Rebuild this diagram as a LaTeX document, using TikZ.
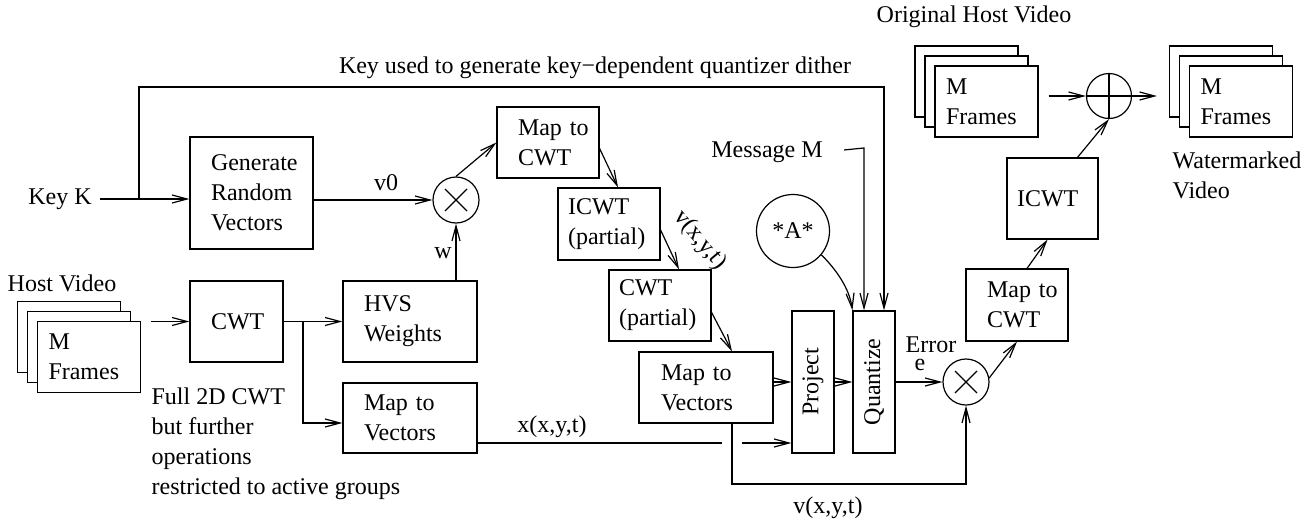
\documentclass[tikz,border=0pt]{standalone}
\usepackage{fontspec}
\setmainfont{Liberation Serif}
\usepackage{graphicx}
\usetikzlibrary{arrows.meta}

\begin{document}
\begin{tikzpicture}[x=1pt, y=-1pt, line width=1.2pt,
  font=\fontsize{24}{30}\selectfont,
  arr/.style={-{Straight Barb[length=15pt, width=8pt]}},
  box/.style={draw, inner sep=0pt, align=left},
  frm/.style={draw, fill=white, inner sep=0pt, align=left, minimum width=103pt, minimum height=71pt, text width=81pt},
  times/.style={draw, circle, inner sep=0pt, minimum size=46pt,
    path picture={\draw (path picture bounding box.center) +(-11,-11) -- +(11,11)
      (path picture bounding box.center) +(-11,11) -- +(11,-11);}},
  plusop/.style={draw, circle, inner sep=0pt, minimum size=45pt,
    path picture={\draw (path picture bounding box.north) -- (path picture bounding box.south)
      (path picture bounding box.west) -- (path picture bounding box.east);}},
  lbl/.style={inner sep=0pt}]

\useasboundingbox (0,0) rectangle (1316,525);

\node[lbl] (keyk) at (60,199) {Key K};
\node[box, minimum width=123pt, minimum height=112pt, text width=81pt] (gen) at (251.5,193) {Generate\\Random\\Vectors};
\node[times] (mulA) at (456,200) {};
\node[box, minimum width=102pt, minimum height=71pt, text width=60pt] (mapcA) at (548,142.5) {Map~to\\CWT};
\node[box, minimum width=102pt, minimum height=72pt, text width=82pt] (icwtA) at (609,224) {ICWT\\(partial)};
\node[box, minimum width=102pt, minimum height=71pt, text width=82pt] (cwtB) at (660,305.5) {CWT\\(partial)};
\node[box, minimum width=134pt, minimum height=71pt, text width=90pt] (mapvB) at (706,387.5) {Map~to\\Vectors};
\node[box, minimum width=42pt, minimum height=142pt] (proj) at (813,382) {\rotatebox{90}{Project}};
\node[box, minimum width=42pt, minimum height=142pt] (quant) at (874,382) {\rotatebox{90}{Quantize}};
\node[times] (mulB) at (966,382) {};
\node[box, minimum width=102pt, minimum height=72pt, text width=60pt] (mapcB) at (1017,305) {Map~to\\CWT};
\node[box, minimum width=91pt, minimum height=81pt, text width=71pt] (icwtB) at (1052.5,198.5) {ICWT};
\node[plusop] (plus) at (1109,96) {};
\node[draw, circle, inner sep=0pt, minimum size=73pt] (astA) at (793,231) {*A*};
\node[box, minimum width=93pt, minimum height=81pt, text width=51pt] (cwtA) at (236.5,321.5) {CWT};
\node[box, minimum width=134pt, minimum height=81pt, text width=92pt] (hvs) at (410,321.5) {HVS\\Weights};
\node[box, minimum width=134pt, minimum height=70pt, text width=92pt] (mapvA) at (410,418) {Map~to\\Vectors};

\node[frm] (hostA) at (69,337) {};
\node[frm] (hostB) at (79,347) {};
\node[frm] (hostC) at (89,357) {M\\Frames};
\node[frm] (origA) at (966.5,81.5) {};
\node[frm] (origB) at (976.5,91.5) {};
\node[frm] (origC) at (986.5,101.5) {M\\Frames};
\node[frm] (wmA) at (1221,81.5) {};
\node[frm] (wmB) at (1231,91.5) {};
\node[frm] (wmC) at (1241,101.5) {M\\Frames};

\node[lbl] (keytxt) at (595,68) {Key used to generate key−dependent quantizer dither};
\node[lbl] (msg) at (767,152) {Message M};
\node[lbl] (origtxt) at (974,17) {Original Host Video};
\node[lbl, align=left, anchor=north west] (wmtxt) at (1172,151) {Watermarked\\Video};
\node[lbl] (hosttxt) at (62,283) {Host Video};
\node[lbl, align=left, anchor=north west] (note) at (151,387) {Full 2D CWT\\but further\\operations\\restricted to active groups};
\node[lbl] (vzero) at (386,183) {v0};
\node[lbl] (wtxt) at (443,253) {w};
\node[lbl] (xtxt) at (552,427) {x(x,y,t)};
\node[lbl] (vtxt) at (828,508) {v(x,y,t)};
\node[lbl] (errtxt) at (931,345) {Error};
\node[lbl] (etxt) at (920,365) {e};
\node[lbl, rotate=-50] (vrot) at (700,240) {v(x,y,t)};

\coordinate (kb) at (139,199);
\coordinate (kturn) at (884,87);
\coordinate (mturn) at (864,148);
\coordinate (cb) at (303,321.5);
\coordinate (hopl) at (722,443);
\coordinate (hopr) at (742,443);
\coordinate (vbot) at (732,484);

\path[draw, arr, shorten <=8pt] (keyk.east) -- (keyk.east -| gen.west);
\path[draw, arr] (kb) |- (kturn) -- (kturn |- quant.north);
\path[draw, arr] (gen.east |- mulA) -- (mulA.west);
\path[draw, arr] (hvs.north -| mulA) -- (mulA.south);
\path[draw, arr] (mulA.north) -- (mapcA.west);
\path[draw, arr] ([yshift=-6pt]mapcA.east) -- ([xshift=9pt]icwtA.north);
\path[draw, arr] ([yshift=-6pt]icwtA.east) -- ([xshift=19pt]cwtB.north);
\path[draw, arr] ([yshift=-7pt]cwtB.east) -- ([xshift=26pt]mapvB.north);
\path[draw, arr] (mapvB.east |- proj) -- (proj.west);
\path[draw, arr] (proj.east) -- (quant.west);
\path[draw, arr] (quant.east) -- (mulB.west);
\path[draw, arr] (astA.-40) .. controls +(15,15) and +(-3,-22) .. (quant.north west);
\path[draw, arr, shorten <=21pt] (msg.east) -- (mturn) -- (mturn |- quant.north);
\path[draw, arr] (mulB.10) -- (mapcB.south);
\path[draw, arr] ([xshift=10pt]mapcB.north) -- ([xshift=-5pt]icwtB.south);
\path[draw, arr] ([xshift=25pt]icwtB.north) -- (plus.south);
\path[draw, arr, shorten <=10pt] (origC.east |- plus) -- (plus.west);
\path[draw, arr, shorten >=12pt] (plus.east) -- (plus -| wmA.west);
\path[draw, arr, shorten <=10pt] (hostC.east |- cwtA) -- (cwtA.west);
\path[draw] (cwtA.east) -- (cb);
\path[draw, arr] (cb) -- (hvs.west);
\path[draw, arr] (cb) |- ([yshift=-5pt]mapvA.west);
\path[draw] ([yshift=-25pt]mapvA.east) -- (hopl);
\path[draw, arr] (hopr) -- (hopr -| proj.west);
\path[draw, arr] ([xshift=26pt]mapvB.south) -- (vbot) -| (mulB.south);

\end{tikzpicture}
\end{document}
